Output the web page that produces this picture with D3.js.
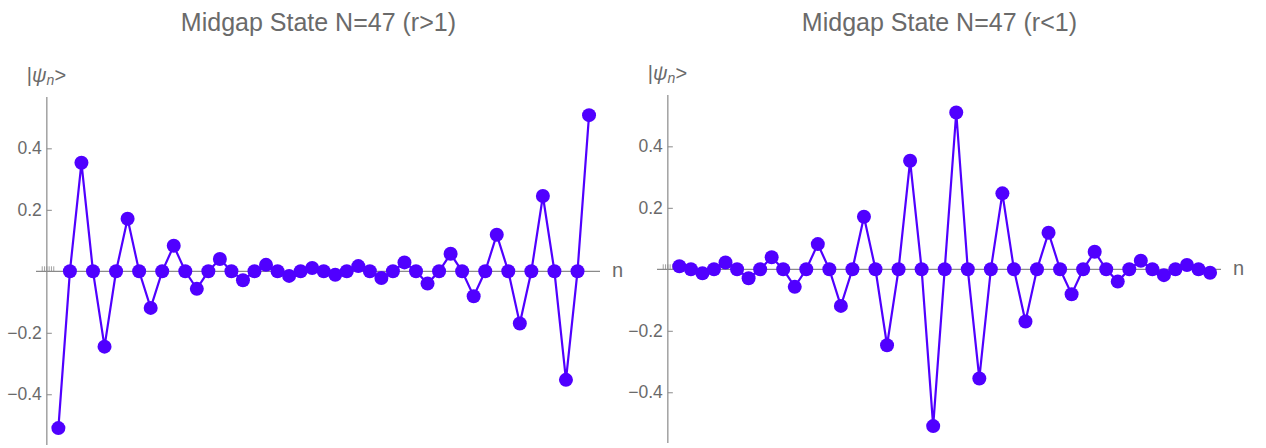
<!DOCTYPE html>
<html>
<head>
<meta charset="utf-8">
<script src="https://cdn.jsdelivr.net/npm/d3@7"></script>
<style>
    body { margin: 0; background: #fff; }
    text { font-family: "Liberation Sans", Arial, sans-serif; }
</style>
</head>
<body>
<div id="chart"></div>
<script>
// site index n = 1..47
var sites = d3.range(1, 48);

var titles = ["Midgap State N=47 (r>1)", "Midgap State N=47 (r<1)"];

// |psi_n> amplitudes
var psiRgt1 = [-0.51, 0, 0.353, 0, -0.245, 0, 0.171, 0, -0.119, 0,
    0.083, 0, -0.057, 0, 0.040, 0, -0.029, 0, 0.021, 0,
    -0.015, 0, 0.011, 0, -0.011, 0, 0.017, 0, -0.022, 0,
    0.029, 0, -0.040, 0, 0.057, 0, -0.081, 0, 0.119, 0,
    -0.170, 0, 0.245, 0, -0.353, 0, 0.508];

var psiLt1 = [0.010, 0, -0.013, 0, 0.022, 0, -0.029, 0, 0.039, 0,
    -0.057, 0, 0.082, 0, -0.119, 0, 0.171, 0, -0.247, 0,
    0.353, 0, -0.510, 0, 0.510, 0, -0.355, 0, 0.247, 0,
    -0.170, 0, 0.119, 0, -0.081, 0, 0.057, 0, -0.040, 0,
    0.028, 0, -0.019, 0, 0.014, 0, -0.011];

var yTicks = [-0.4, -0.2, 0.2, 0.4];
var xMinorTicks = [-0.4, -0.2, 0, 0.2, 0.4, 0.6];

var w = 1266;
var h = 448;
var ptColor = "#5000ff";
var axisColor = "#8a8a8a";
var textColor = "#6a6a6a";

var svg = d3.select("#chart").append("svg")
    .attr("width", w)
    .attr("height", h);

function drawPanel(left, top, bottom, title, values) {
    var x = d3.scaleLinear()
        .domain([-0.94, 47.95])
        .range([left, left + 564]);

    var y = d3.scaleLinear()
        .domain([-0.565, 0.567])
        .range([bottom, top]);

    var g = svg.append("g");

    g.append("text")
        .attr("x", (x(0) + x(47.95)) / 2 - 5)
        .attr("y", 31)
        .attr("text-anchor", "middle")
        .attr("font-size", 25)
        .attr("fill", textColor)
        .text(title);

    // horizontal axis
    g.append("line")
        .attr("x1", x.range()[0])
        .attr("x2", x.range()[1])
        .attr("y1", y(0))
        .attr("y2", y(0))
        .attr("stroke", axisColor)
        .attr("stroke-width", 1.2);

    g.selectAll(".minor")
        .data(xMinorTicks)
        .enter()
        .append("line")
        .attr("x1", function(d) { return x(d); })
        .attr("x2", function(d) { return x(d); })
        .attr("y1", y(0))
        .attr("y2", y(0) - 5)
        .attr("stroke", axisColor)
        .attr("stroke-width", 0.8);

    g.append("text")
        .attr("x", x.range()[1] + 12)
        .attr("y", y(0) + 6)
        .attr("font-size", 20)
        .attr("fill", textColor)
        .text("n");

    // vertical axis
    var yAxis = d3.axisRight(y)
        .tickValues(yTicks)
        .tickSize(5)
        .tickFormat(function(d) { return d3.format(".1f")(d).replace("-", "\u2212"); });

    var ax = g.append("g")
        .attr("transform", "translate(" + x(0) + ",0)")
        .call(yAxis);
    ax.select(".domain")
        .attr("d", "M0," + top + "V" + bottom)
        .attr("stroke", axisColor)
        .attr("stroke-width", 1.2);
    ax.selectAll(".tick line").attr("stroke", axisColor);
    ax.selectAll(".tick text")
        .attr("x", -5)
        .attr("text-anchor", "end")
        .attr("font-size", 17.5)
        .attr("font-family", "Liberation Sans, Arial, sans-serif")
        .attr("fill", textColor);

    // axis label |psi_n>
    var lab = g.append("text")
        .attr("x", x(0) - 20)
        .attr("y", top - 15)
        .attr("font-size", 20)
        .attr("fill", textColor);
    lab.append("tspan").text("|");
    lab.append("tspan").attr("font-style", "italic").text("\u03c8");
    lab.append("tspan").attr("font-style", "italic").attr("font-size", 14).attr("dy", 3).text("n");
    lab.append("tspan").attr("dy", -3).text(">");

    var data = sites.map(function(n, i) {
        return { n: n, v: values[i] };
    });

    var line = d3.line()
        .x(function(d) { return x(d.n); })
        .y(function(d) { return y(d.v); });

    g.append("path")
        .datum(data)
        .attr("d", line)
        .attr("fill", "none")
        .attr("stroke", ptColor)
        .attr("stroke-width", 2.2);

    g.selectAll(".pt")
        .data(data)
        .enter()
        .append("circle")
        .attr("class", "pt")
        .attr("cx", function(d) { return x(d.n); })
        .attr("cy", function(d) { return y(d.v); })
        .attr("r", 7)
        .attr("fill", ptColor);
}

drawPanel(36, 97, 445, titles[0], psiRgt1);
drawPanel(657, 95, 443, titles[1], psiLt1);
</script>
</body>
</html>
